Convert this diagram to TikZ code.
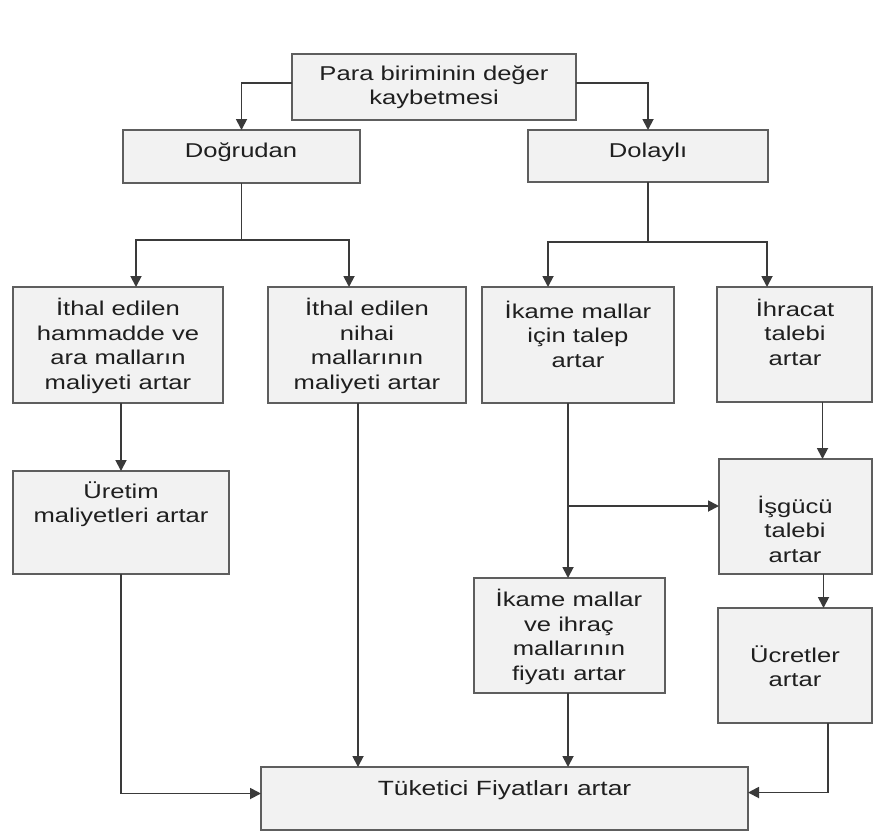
\documentclass[tikz,border=0pt]{standalone}
\usepackage{fontspec}
\setmainfont{Liberation Sans}[FakeStretch=1.28]
\usetikzlibrary{arrows.meta,calc}
\definecolor{boxfill}{HTML}{F2F2F2}
\definecolor{boxline}{HTML}{5E5E5E}
\definecolor{wire}{HTML}{3A3A3A}
\tikzset{
  box/.style={draw=boxline, line width=1.7pt, fill=boxfill, rectangle, inner sep=0pt, outer sep=0pt},
  txt/.style={align=center, inner sep=0pt, font=\fontsize{20}{24.5}\selectfont, text=black!88},
  arr/.style={draw=wire, line width=1.8pt, -{Triangle[width=11pt,length=11pt]}},
  ln/.style={draw=wire, line width=1.8pt}
}
\begin{document}
\begin{tikzpicture}[x=1pt,y=-1pt]
\useasboundingbox[fill=white] (0,0) rectangle (882,839);
% boxes
\node[box, minimum width=284pt, minimum height=66pt] (top) at (434,87) {};
\node[box, minimum width=237pt, minimum height=53pt] (dog) at (241.5,156.5) {};
\node[box, minimum width=240pt, minimum height=52pt] (dol) at (648,156) {};
\node[box, minimum width=210pt, minimum height=116pt] (A) at (118,345) {};
\node[box, minimum width=198pt, minimum height=116pt] (B) at (367,345) {};
\node[box, minimum width=192pt, minimum height=116pt] (C) at (578,345) {};
\node[box, minimum width=155pt, minimum height=115pt] (D) at (794.5,344.5) {};
\node[box, minimum width=216pt, minimum height=103pt] (E) at (121,522.5) {};
\node[box, minimum width=153pt, minimum height=115pt] (F) at (795.5,516.5) {};
\node[box, minimum width=191pt, minimum height=115pt] (G) at (569.5,635.5) {};
\node[box, minimum width=154pt, minimum height=115pt] (H) at (795,665.5) {};
\node[box, minimum width=487pt, minimum height=63pt] (I) at (504.5,798.5) {};
% texts
\node[txt] (top-t) at (434,87) {Para biriminin değer\\kaybetmesi};
\node[txt] (dog-t) at (241,152) {Doğrudan};
\node[txt] (dol-t) at (648,152) {Dolaylı};
\node[txt] (A-t) at (118,346) {İthal edilen\\hammadde ve\\ara malların\\maliyeti artar};
\node[txt] (B-t) at (367,346) {İthal edilen\\nihai\\mallarının\\maliyeti artar};
\node[txt] (C-t) at (578,334) {İkame mallar\\için talep\\artar};
\node[txt] (D-t) at (795,332) {İhracat\\talebi\\artar};
\node[txt] (E-t) at (121,504) {Üretim\\maliyetleri artar};
\node[txt] (F-t) at (795,529) {İşgücü\\talebi\\artar};
\node[txt] (G-t) at (569,637) {İkame mallar\\ve ihraç\\mallarının\\fiyatı artar};
\node[txt] (H-t) at (795,666) {Ücretler\\artar};
\node[txt, font=\fontsize{20.6}{24.5}\selectfont] (I-t) at (504.5,790) {Tüketici Fiyatları artar};
% connectors
\draw[arr] ([yshift=4pt]top.west) -| (dog.north);
\draw[arr] ([yshift=4pt]top.east) -| (dol.north);
\coordinate (j1) at ($(dog.south)+(0,57)$);
\draw[ln] (dog.south) -- (j1);
\draw[arr] (j1) -| ([xshift=18pt]A.north);
\draw[arr] (j1) -| ([xshift=-18pt]B.north);
\coordinate (j2) at ($(dol.south)+(0,60)$);
\draw[ln] (dol.south) -- (j2);
\draw[arr] (j2) -| ([xshift=-30pt]C.north);
\draw[arr] (j2) -| ([xshift=-27.5pt]D.north);
\draw[arr] (E.north |- A.south) -- (E.north);
\draw[arr] ([xshift=28pt]D.south) -- ([xshift=28pt]D.south |- F.north);
\draw[arr] ([xshift=-10pt]C.south) -- ([xshift=-10pt]C.south |- G.north);
\coordinate (br) at ($(C.south)+(-10,103)$);
\draw[arr] (br) -- (br -| F.west);
\draw[arr] ([xshift=28pt]F.south) -- ([xshift=28pt]F.south |- H.north);
\draw[arr] (E.south) |- ([yshift=5pt]I.west);
\draw[arr] ([xshift=-9pt]B.south) -- ([xshift=-9pt]B.south |- I.north);
\draw[arr] (G.south -| br) -- (br |- I.north);
\draw[arr] ([xshift=33pt]H.south) |- ([yshift=6pt]I.east);
\end{tikzpicture}
\end{document}
